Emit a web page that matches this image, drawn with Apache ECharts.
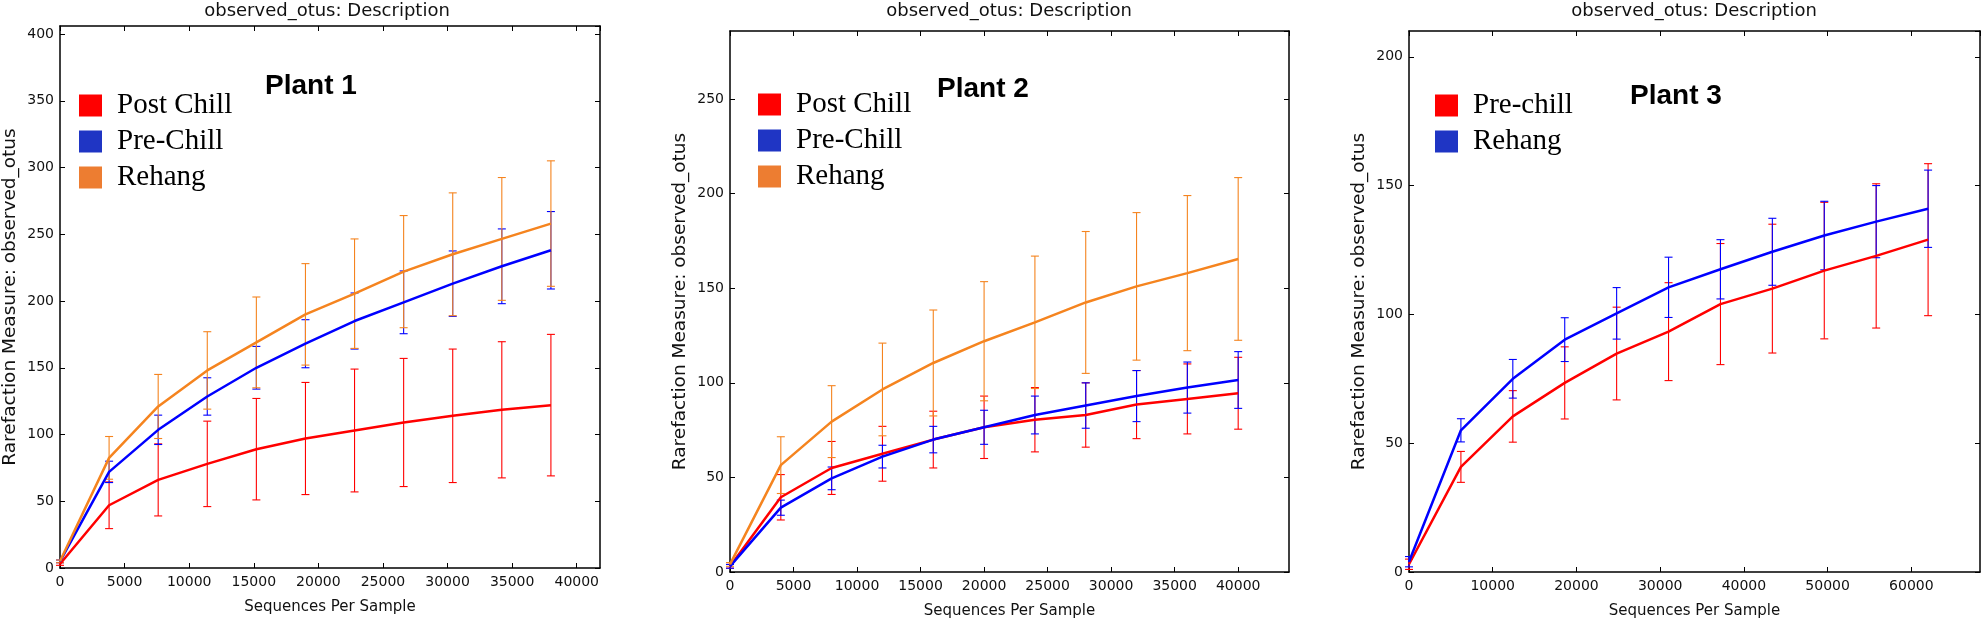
<!DOCTYPE html>
<html>
<head>
<meta charset="utf-8">
<script src="https://cdn.jsdelivr.net/npm/echarts@6/dist/echarts.min.js"></script>
<style>
html, body { margin: 0; padding: 0; background: #fff; }
#chart { width: 1984px; height: 626px; }
</style>
</head>
<body>
<div id="chart"></div>
<script>
// Plant 1 (sequences per sample, mean observed otus, std dev)
var seq1 = [0, 3800, 7600, 11400, 15200, 19000, 22800, 26600, 30400, 34200, 38000];
var post1 = [3, 47, 66, 78, 89, 97, 103, 109, 114, 118.5, 122];
var post1Sd = [1, 17.5, 27, 32, 38, 42, 46, 48, 50, 51, 53];
var pre1 = [5, 72, 103.5, 128.5, 150, 168, 185, 199, 213, 226, 238];
var pre1Sd = [1, 8, 11, 14, 16, 18, 21, 23.5, 24.5, 28, 29];
var reh1 = [5, 82.5, 121, 148, 169, 190, 205.5, 222, 235, 246.5, 258];
var reh1Sd = [1, 16, 24, 29, 34, 38, 41, 42, 46, 46, 47];

// Plant 2
var seq2 = [0, 4000, 8000, 12000, 16000, 20000, 24000, 28000, 32000, 36000, 40000];
var post2 = [3, 39.5, 55, 62.5, 70, 76.5, 80.5, 83, 88.5, 91.5, 94.5];
var post2Sd = [1, 12, 14, 14.5, 15, 16.5, 17, 17, 18, 18.5, 19];
var pre2 = [3, 34, 49.5, 61, 70, 76.5, 83, 88, 93, 97.5, 101.5];
var pre2Sd = [1, 4, 6, 6, 7, 9, 10, 12, 13.5, 13.5, 15];
var reh2 = [4, 56.5, 79.5, 96.5, 110.5, 122, 132, 142.5, 151, 158, 165.5];
var reh2Sd = [1, 15, 19, 24.5, 28, 31.5, 35, 37.5, 39, 41, 43];

// Plant 3
var seq3 = [0, 6200, 12400, 18600, 24800, 31000, 37200, 43400, 49600, 55800, 62000];
var pre3 = [3, 40.8, 60.4, 73.4, 84.8, 93.3, 104, 110, 117, 122.7, 129];
var pre3Sd = [2, 6, 10, 14, 18, 19, 23.5, 25, 26.5, 28, 29.5];
var reh3 = [4, 55, 75, 90.2, 100.4, 110.5, 117.5, 124.3, 130.6, 136, 141];
var reh3Sd = [2, 4.5, 7.5, 8.5, 10, 11.7, 11.5, 13, 13.3, 14, 15];

var RED = '#ff0000', BLUE = '#0000ff', ORANGE = '#f5841f';

var myChart = echarts.init(document.getElementById('chart'));

function points(xs, ys) {
    return xs.map(function (x, i) { return [x, ys[i]]; });
}
function bars(xs, mean, sd) {
    return xs.map(function (x, i) { return [x, mean[i] - sd[i], mean[i] + sd[i]]; });
}

function renderErr(params, api) {
    var x = api.value(0);
    var top = api.coord([x, api.value(2)]);
    var bot = api.coord([x, api.value(1)]);
    var c = api.visual('color');
    var hw = 4;
    function seg(x1, y1, x2, y2) {
        return { type: 'line', shape: { x1: x1, y1: y1, x2: x2, y2: y2 }, style: { stroke: c, lineWidth: 1.1 } };
    }
    return {
        type: 'group',
        children: [
            seg(top[0], top[1], bot[0], bot[1]),
            seg(top[0] - hw, top[1], top[0] + hw, top[1]),
            seg(bot[0] - hw, bot[1], bot[0] + hw, bot[1])
        ]
    };
}

var panels = [
    {
        grid: { left: 55, top: 26, width: 545, height: 542 },
        xMax: 41800, xStep: 5000, yMax: 406, yStep: 50,
        titleX: 327, plant: 'Plant 1', plantX: 265, plantY: 72,
        legendX: 79, legendY: 91,
        groups: [
            { name: 'Post Chill', color: RED, key: '#ff0000', seq: seq1, mean: post1, sd: post1Sd },
            { name: 'Pre-Chill', color: BLUE, key: '#1f35c4', seq: seq1, mean: pre1, sd: pre1Sd },
            { name: 'Rehang', color: ORANGE, key: '#ed7d31', seq: seq1, mean: reh1, sd: reh1Sd }
        ]
    },
    {
        grid: { left: 730, top: 31, width: 559, height: 541 },
        xMax: 44000, xStep: 5000, yMax: 286, yStep: 50,
        titleX: 1009, plant: 'Plant 2', plantX: 937, plantY: 75,
        legendX: 758, legendY: 90,
        groups: [
            { name: 'Post Chill', color: RED, key: '#ff0000', seq: seq2, mean: post2, sd: post2Sd },
            { name: 'Pre-Chill', color: BLUE, key: '#1f35c4', seq: seq2, mean: pre2, sd: pre2Sd },
            { name: 'Rehang', color: ORANGE, key: '#ed7d31', seq: seq2, mean: reh2, sd: reh2Sd }
        ]
    },
    {
        grid: { left: 1409, top: 31, width: 571, height: 541 },
        xMax: 68200, xStep: 10000, yMax: 210, yStep: 50,
        titleX: 1694, plant: 'Plant 3', plantX: 1630, plantY: 82,
        legendX: 1435, legendY: 91,
        groups: [
            { name: 'Pre-chill', color: RED, key: '#ff0000', seq: seq3, mean: pre3, sd: pre3Sd },
            { name: 'Rehang', color: BLUE, key: '#1f35c4', seq: seq3, mean: reh3, sd: reh3Sd }
        ]
    }
];

var axisLine = { onZero: false, lineStyle: { color: '#000', width: 1.5 } };
var axisTick = { inside: true, length: 5, lineStyle: { color: '#000', width: 1 } };
var tickFont = { fontFamily: 'DejaVu Sans', fontSize: 14, color: '#111' };
function plain(v) { return String(v); }

var option = {
    animation: false,
    backgroundColor: '#fff',
    title: [], legend: [], grid: [], xAxis: [], yAxis: [], series: []
};

panels.forEach(function (p, gi) {
    option.grid.push(p.grid);

    option.xAxis.push({
        type: 'value', gridIndex: gi, position: 'bottom',
        min: 0, max: p.xMax, interval: p.xStep,
        name: 'Sequences Per Sample', nameLocation: 'middle', nameGap: 32,
        nameTextStyle: { fontFamily: 'DejaVu Sans', fontSize: 15, color: '#111' },
        axisLine: axisLine, axisTick: axisTick,
        axisLabel: Object.assign({ showMaxLabel: false, margin: 7, formatter: plain }, tickFont),
        splitLine: { show: false }
    });
    option.xAxis.push({
        type: 'value', gridIndex: gi, position: 'top',
        min: 0, max: p.xMax, interval: p.xStep,
        axisLine: axisLine, axisTick: axisTick,
        axisLabel: { show: false }, splitLine: { show: false }
    });
    option.yAxis.push({
        type: 'value', gridIndex: gi, position: 'left',
        min: 0, max: p.yMax, interval: p.yStep,
        name: 'Rarefaction Measure: observed_otus', nameLocation: 'middle', nameGap: 40,
        nameTextStyle: { fontFamily: 'DejaVu Sans', fontSize: 18.5, color: '#111' },
        axisLine: axisLine, axisTick: axisTick,
        axisLabel: Object.assign({ showMaxLabel: false, margin: 6, formatter: plain }, tickFont),
        splitLine: { show: false }
    });
    option.yAxis.push({
        type: 'value', gridIndex: gi, position: 'right',
        min: 0, max: p.yMax, interval: p.yStep,
        axisLine: axisLine, axisTick: axisTick,
        axisLabel: { show: false }, splitLine: { show: false }
    });

    option.title.push({
        text: 'observed_otus: Description', left: p.titleX, top: 2, textAlign: 'center', padding: 0,
        textStyle: { fontFamily: 'DejaVu Sans', fontSize: 18, fontWeight: 'normal', color: '#111' }
    });
    option.title.push({
        text: p.plant, left: p.plantX, top: p.plantY, padding: 0,
        textStyle: { fontFamily: 'Liberation Sans', fontSize: 28, fontWeight: 'bold', color: '#000' }
    });

    option.legend.push({
        left: p.legendX, top: p.legendY, orient: 'vertical', padding: 0,
        icon: 'rect', itemWidth: 23, itemHeight: 22, itemGap: 7,
        selectedMode: false,
        textStyle: { fontFamily: 'Liberation Serif', fontSize: 29, color: '#000', padding: [0, 0, 0, 10] },
        data: p.groups.map(function (g) {
            return { name: g.name, itemStyle: { color: g.key, borderWidth: 0 } };
        })
    });

    p.groups.forEach(function (g) {
        option.series.push({
            name: g.name, type: 'custom', xAxisIndex: gi * 2, yAxisIndex: gi * 2,
            itemStyle: { color: g.color },
            renderItem: renderErr,
            encode: { x: 0, y: [1, 2] },
            data: bars(g.seq, g.mean, g.sd)
        });
        option.series.push({
            name: g.name, type: 'line', xAxisIndex: gi * 2, yAxisIndex: gi * 2,
            symbol: 'none', color: g.color,
            lineStyle: { color: g.color, width: 2.5 },
            data: points(g.seq, g.mean)
        });
    });
});

myChart.setOption(option);
</script>
</body>
</html>
